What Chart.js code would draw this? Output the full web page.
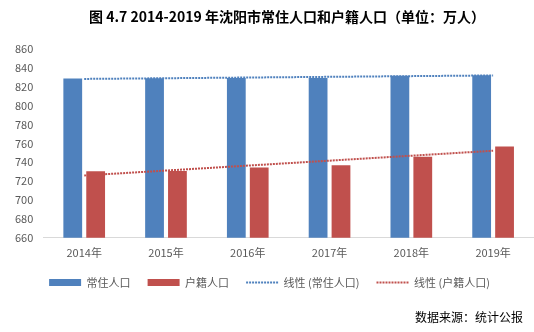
<!DOCTYPE html>
<html><head><meta charset="utf-8">
<script src="https://cdn.jsdelivr.net/npm/chart.js@4/dist/chart.umd.min.js"></script>
<style>
html,body{margin:0;padding:0;background:#fff;}
#wrap{position:relative;width:534px;height:332px;}
#title{position:absolute;left:0;width:574px;top:6px;text-align:center;font-family:"Noto Sans CJK SC",sans-serif;font-weight:bold;font-size:14px;color:#000;white-space:nowrap;}
#src{position:absolute;right:11px;top:308px;font-family:"Noto Sans CJK SC",sans-serif;font-size:12px;color:#000;}
#c{position:absolute;left:0;top:0;}
</style></head>
<body><div id="wrap">
<canvas id="c" width="534" height="332"></canvas>
<div id="title">图 4.7 2014-2019 年沈阳市常住人口和户籍人口（单位：万人）</div>
<div id="src">数据来源：统计公报</div>
</div>
<script>
const categories = ["2014年","2015年","2016年","2017年","2018年","2019年"];
const resident = [828.7, 829.1, 829.4, 829.2, 831.6, 832.2];
const registered = [730.4, 730.8, 734.4, 736.9, 745.9, 756.7];
// trend line endpoints (intermediate points left empty)
const residentTrend = [828.3, null, null, null, null, 832.0];
const registeredTrend = [726.0, null, null, null, null, 752.2];
const yTicks = [660, 680, 700, 720, 740, 760, 780, 800, 820, 840, 860];

const BLUE = "#4F81BD", RED = "#C0504D";
const font = {family: "'Noto Sans CJK SC', sans-serif", size: 11};

new Chart(document.getElementById("c"), {
  data: {
    labels: categories,
    datasets: [
      {type: "bar", label: "常住人口", data: resident, backgroundColor: BLUE, categoryPercentage: 0.56, barPercentage: 0.82, order: 2},
      {type: "bar", label: "户籍人口", data: registered, backgroundColor: RED, categoryPercentage: 0.56, barPercentage: 0.82, order: 2},
      {type: "line", label: "线性 (常住人口)", data: residentTrend, borderColor: BLUE, backgroundColor: BLUE, borderWidth: 2, borderDash: [2, 1], pointRadius: 0, spanGaps: true, order: 1},
      {type: "line", label: "线性 (户籍人口)", data: registeredTrend, borderColor: RED, backgroundColor: RED, borderWidth: 2, borderDash: [2, 1], pointRadius: 0, spanGaps: true, order: 1}
    ]
  },
  options: {
    responsive: false,
    animation: false,
    layout: {padding: {top: 49, bottom: 34, left: 5, right: 0}},
    plugins: {
      title: {display: false},
      tooltip: {enabled: false},
      legend: {
        position: "bottom",
        labels: {
          font: font, color: "#595959", padding: 17,
          usePointStyle: true, pointStyleWidth: 32, boxHeight: 7,
          sort: (a, b) => a.datasetIndex - b.datasetIndex,
          generateLabels: (chart) => {
            const items = Chart.defaults.plugins.legend.labels.generateLabels(chart);
            items.forEach((it) => {
              if (it.datasetIndex < 2) { it.pointStyle = "rect"; it.lineWidth = 0; it.strokeStyle = "rgba(0,0,0,0)"; }
              else { it.pointStyle = "line"; it.lineWidth = 2; it.lineDash = [2, 1]; }
            });
            return items;
          }
        }
      }
    },
    scales: {
      x: {
        grid: {display: false, drawTicks: false},
        border: {display: true, color: "#D9D9D9", width: 1},
        ticks: {font: font, color: "#595959", padding: 8},
        afterFit: (s) => { s.height -= 7; }
      },
      y: {
        min: 660, max: 860,
        afterBuildTicks: (axis) => { axis.ticks = yTicks.map(v => ({value: v})); },
        grid: {display: false, drawTicks: false},
        border: {display: false},
        ticks: {font: font, color: "#595959", padding: 10}
      }
    }
  }
});
</script>
</body></html>
